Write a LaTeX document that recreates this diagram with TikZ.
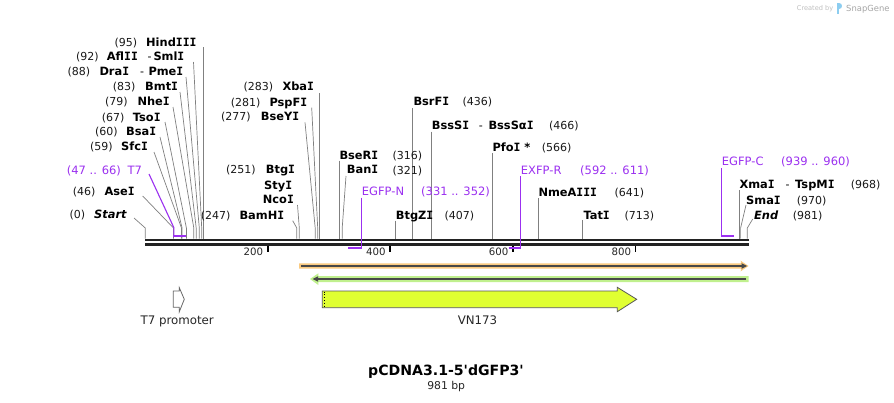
\documentclass[tikz,border=0pt]{standalone}
\usepackage{fontspec}
\setmainfont{DejaVu Sans}
\newfontfamily\monof{DejaVu Sans Mono}
\newfontfamily\titlefont{DejaVu Sans}
\definecolor{primc}{RGB}{155,48,240}
\definecolor{seqc}{RGB}{35,35,35}
\definecolor{orhalo}{RGB}{250,202,128}
\definecolor{grhalo}{RGB}{192,240,142}
\definecolor{featdark}{RGB}{72,72,72}
\definecolor{vnfill}{RGB}{224,255,50}
\definecolor{numc}{RGB}{25,25,25}
\definecolor{snapblue}{RGB}{140,205,240}
\tikzset{
  nmst/.style={font=\fontsize{11.4}{13}\selectfont\bfseries, inner sep=0pt, anchor=base west, text=black},
  numst/.style={font=\fontsize{11}{13}\selectfont, inner sep=0pt, anchor=base west, text=numc},
  prst/.style={font=\fontsize{11.5}{13}\selectfont, inner sep=0pt, anchor=base west, text=primc},
  featlab/.style={font=\fontsize{11.8}{14}\selectfont, inner sep=0pt, anchor=base, text=black!85},
  ticklab/.style={font=\fontsize{10.2}{12}\selectfont, inner sep=0pt, anchor=base east, text=black!85},
  conn/.style={draw=black!50, line width=0.7pt},
  primline/.style={draw=primc, line width=1.1pt},
  primbar/.style={draw=primc, line width=2.2pt},
  seqline/.style={draw=seqc, line width=2.6pt},
  tickmark/.style={draw=black, line width=1.6pt},
}
\newcommand{\Ix}{{\monof I}}
\newcommand{\enzl}[4]{\node[nmst] (#1) at (#2,{#3+4.15}) {#4};}
\newcommand{\numl}[4]{\node[numst] (#1) at (#2,{#3+4}) {#4};}
\newcommand{\priml}[4]{\node[prst] (#1) at (#2,{#3+4.2}) {#4};}
\begin{document}
\begin{tikzpicture}[x=1pt,y=-1pt]
\useasboundingbox (0,0) rectangle (894,402);
\fill[white] (0,0) rectangle (894,402);

% ---------- connectors (enzymes) ----------
\draw[conn] (203.6,47) -- (203.6,238.5);
\draw[conn] (193.5,62) -- (201.7,228) -- (201.7,238.5);
\draw[conn] (186,77) -- (199.3,228) -- (199.3,238.5);
\draw[conn] (180,92) -- (196.2,228) -- (196.2,238.5);
\draw[conn] (173,107) -- (193.8,228) -- (193.8,238.5);
\draw[conn] (165,122) -- (186.4,228) -- (186.4,238.5);
\draw[conn] (160,137) -- (182.1,228) -- (182.1,238.5);
\draw[conn] (154,152) -- (181.5,228) -- (181.5,238.5);
\draw[conn] (142.7,196) -- (173.5,228) -- (173.5,238.5);
\draw[conn] (134,218) -- (145.3,228) -- (145.3,238.5);

\draw[conn] (319,93) -- (319,238.5);
\draw[conn] (311.7,107.7) -- (317.7,228) -- (317.7,238.5);
\draw[conn] (305,122.3) -- (315.2,228) -- (315.2,238.5);
\draw[conn] (297.5,205) -- (299.3,228) -- (299.3,238.5);
\draw[conn] (292.7,220.7) -- (296.8,228) -- (296.8,238.5);
\draw[conn] (339.2,160.7) -- (339.2,238.5);
\draw[conn] (346,176) -- (342.2,228) -- (342.2,238.5);
\draw[conn] (395,220.7) -- (395,238.5);
\draw[conn] (412.8,108.3) -- (412.8,238.5);
\draw[conn] (431.2,131.7) -- (431.2,238.5);
\draw[conn] (492.5,153.3) -- (492.5,238.5);
\draw[conn] (538.5,198.3) -- (538.5,238.5);
\draw[conn] (582.7,220) -- (582.7,238.5);
\draw[conn] (739.2,190) -- (739.2,238.5);
\draw[conn] (746,205) -- (740.6,228) -- (740.6,238.5);
\draw[conn] (752.7,219) -- (747.3,228) -- (747.3,238.5);

% ---------- sequence ----------
\coordinate (s0) at (145.3,240);
\coordinate (s1) at (748.5,240);
\draw[seqline] (s0) -- (s1);
\draw[seqline] (145.3,244.3) -- (748.5,244.3);

% ticks
\foreach \tx/\tl in {267.7/200, 390.2/400, 512.9/600, 635.6/800}{
  \draw[tickmark] (\tx,245.5) -- (\tx,252);
  \node[ticklab] at ({\tx-4.3},255.5) {\tl};
}

% ---------- primers ----------
\draw[primline] (149,174) -- (173.8,227.5) -- (173.8,236);
\draw[primbar] (173.3,236) -- (185.8,236);
\draw[primline] (361.2,197.7) -- (361.2,247.7);
\draw[primbar] (348.4,247.7) -- (361.7,247.7);
\draw[primline] (520.5,176) -- (520.5,247.7);
\draw[primbar] (508.5,247.7) -- (521,247.7);
\draw[primline] (721.4,168.3) -- (721.4,235.7);
\draw[primbar] (720.9,235.7) -- (734.3,235.7);

% ---------- labels left group ----------
\numl{n95}{114.3}{42.3}{(95)}   \enzl{HindIII}{146}{42.3}{Hind\Ix\Ix\Ix}
\numl{n92}{76}{56.7}{(92)}      \enzl{AflII}{106.7}{56.7}{Afl\Ix\Ix}
\numl{d92}{147.3}{56.7}{\textcolor{black}{-}} \enzl{SmlI}{153.3}{56.7}{Sml\Ix}
\numl{n88}{67.3}{71.7}{(88)}    \enzl{DraI}{99.3}{71.7}{Dra\Ix}
\numl{d88}{140}{71.7}{\textcolor{black}{-}} \enzl{PmeI}{148.3}{71.7}{Pme\Ix}
\numl{n83}{112.7}{86.7}{(83)}   \enzl{BmtI}{145}{86.7}{Bmt\Ix}
\numl{n79}{105}{101.7}{(79)}    \enzl{NheI}{137.3}{101.7}{Nhe\Ix}
\numl{n67}{101.7}{117.3}{(67)}  \enzl{TsoI}{132.7}{117.3}{Tso\Ix}
\numl{n60}{95}{131.7}{(60)}     \enzl{BsaI}{126}{131.7}{Bsa\Ix}
\numl{n59}{90}{146.7}{(59)}     \enzl{SfcI}{121}{146.7}{Sfc\Ix}
\priml{pT7r}{66.7}{170}{(47 .. 66)} \priml{pT7}{127.3}{170}{T7}
\numl{n46}{72.7}{191.7}{(46)}   \enzl{AseI}{104.3}{191.7}{Ase\Ix}
\numl{n0}{69.3}{214}{(0)}       \enzl{Start}{94}{214}{\itshape Start}

% ---------- labels middle ----------
\numl{n283}{243.3}{86.7}{(283)}  \enzl{XbaI}{282.3}{86.7}{Xba\Ix}
\numl{n281}{230.7}{102.3}{(281)} \enzl{PspFI}{269.3}{102.3}{PspF\Ix}
\numl{n277}{221}{116.7}{(277)}   \enzl{BseYI}{260.7}{116.7}{BseY\Ix}
\numl{n251}{226}{169.3}{(251)}   \enzl{BtgI}{265.7}{169.3}{Btg\Ix}
\enzl{StyI}{264}{185}{Sty\Ix}
\enzl{NcoI}{262.7}{199.3}{Nco\Ix}
\numl{n247}{200.7}{215}{(247)}   \enzl{BamHI}{239.3}{215}{BamH\Ix}
\enzl{BseRI}{339.3}{155}{BseR\Ix}  \numl{n316}{392.3}{155}{(316)}
\enzl{BanI}{346.7}{169.3}{Ban\Ix}  \numl{n321}{392.3}{170}{(321)}
\priml{pEN}{361.7}{191.7}{EGFP-N} \priml{pENr}{421}{191.7}{(331 .. 352)}
\enzl{BtgZI}{395.7}{215}{BtgZ\Ix}  \numl{n407}{444.3}{215}{(407)}
\enzl{BsrFI}{413.3}{101.7}{BsrF\Ix} \numl{n436}{462.3}{101.7}{(436)}
\enzl{BssSI}{431.7}{125}{BssS\Ix}
\numl{d466}{478.6}{125}{\textcolor{black}{-}} \enzl{BssSaI}{488.3}{125}{BssSα\Ix}
\numl{n466}{549}{125}{(466)}
\enzl{PfoI}{492.3}{147.3}{Pfo\Ix{} *} \numl{n566}{541.7}{147.3}{(566)}
\priml{pER}{520.7}{170}{EXFP-R} \priml{pERr}{580}{170}{(592 .. 611)}
\enzl{NmeAIII}{538.3}{192.3}{NmeA\Ix\Ix\Ix} \numl{n641}{614.3}{192.3}{(641)}
\enzl{TatI}{583.3}{215}{Tat\Ix}    \numl{n713}{624.3}{215}{(713)}

% ---------- labels right ----------
\priml{pEC}{721.7}{161.7}{EGFP-C} \priml{pECr}{781}{161.7}{(939 .. 960)}
\enzl{XmaI}{739.3}{184.3}{Xma\Ix}
\numl{d968}{785.3}{184.3}{\textcolor{black}{-}} \enzl{TspMI}{795}{184.3}{TspM\Ix}
\numl{n968}{850.7}{184.3}{(968)}
\enzl{SmaI}{746}{200}{Sma\Ix}      \numl{n970}{796.7}{200}{(970)}
\enzl{End}{754}{215}{\itshape End} \numl{n981}{792.7}{215}{(981)}

% ---------- features ----------
% orange (forward)
\fill[orhalo] (299,263.3) -- (741,263.3) -- (740.7,260.7) -- (748.5,266) -- (740.7,271.3) -- (741,268.7) -- (299,268.7) -- cycle;
\draw[featdark, line width=1.8pt] (301,266) -- (743,266);
\fill[featdark] (747,266) -- (741.5,263.2) -- (741.5,268.8) -- cycle;
% green (reverse)
\fill[grhalo] (748.5,276) -- (318.3,276) -- (318.3,273.3) -- (310,279) -- (318.3,285) -- (318.3,282) -- (748.5,282) -- cycle;
\draw[featdark, line width=1.8pt] (746,279) -- (317,279);
\fill[featdark] (312.7,279) -- (318.2,276.2) -- (318.2,281.8) -- cycle;

% VN173
\draw[fill=vnfill, draw=black!65, line width=0.8pt]
  (322.3,291) -- (617.3,291) -- (617.3,287.3) -- (636.7,299.3) -- (617.3,311.7) -- (617.3,307.7) -- (322.3,307.7) -- cycle;
\draw[black, dotted, line width=0.8pt] (324.3,291.5) -- (324.3,307.2);
\node[featlab] (vnlab) at (477.5,324.3) {VN173};

% T7 promoter
\draw[fill=white, draw=black!60, line width=0.8pt]
  (173.3,291) -- (179.3,291) -- (179.3,287.7) -- (184.3,299.3) -- (179.3,311.7) -- (179.3,307.3) -- (173.3,307.3) -- cycle;
\node[featlab] (t7lab) at (177.2,324.3) {T7 promoter};

% ---------- title ----------
\node[font=\titlefont\fontsize{14.1}{16}\selectfont\bfseries, inner sep=0pt, anchor=base] (title) at (446,375.8) {pCDNA3.1-5'dGFP3'};
\node[font=\fontsize{10.8}{12}\selectfont, inner sep=0pt, anchor=base, text=black!85] (bp) at (446.2,389) {981 bp};

% ---------- watermark ----------
\node[font=\fontsize{6.6}{8}\selectfont, inner sep=0pt, anchor=base west, text=black!25] (cby) at (796.7,10.4) {Created by};
\fill[snapblue] (836.5,3) rectangle (839,14);
\fill[snapblue] (839,3) .. controls (843,3) and (843,9) .. (839,9) -- cycle;
\node[font=\fontsize{8.4}{10}\selectfont, inner sep=0pt, anchor=base west, text=black!35] (sg) at (846,11) {SnapGene};
\end{tikzpicture}
\end{document}
